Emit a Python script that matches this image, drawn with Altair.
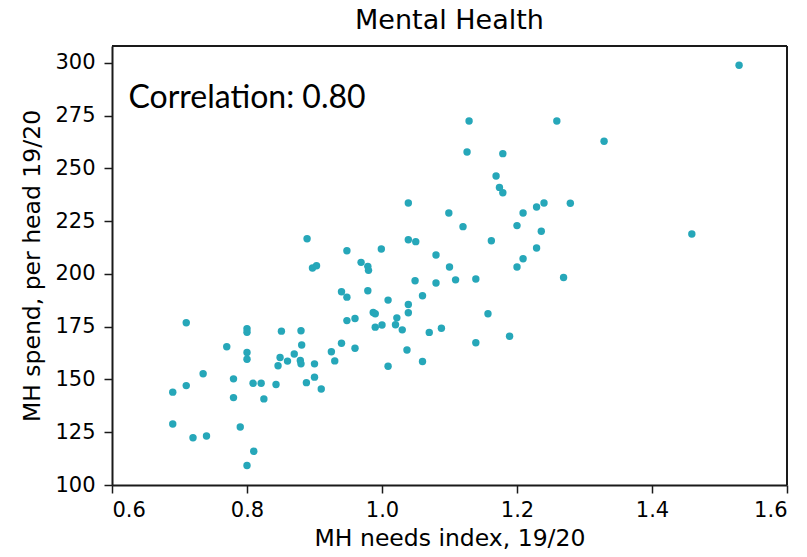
import altair as alt
import pandas as pd

needs = [0.889, 0.948, 0.897, 0.903, 0.940, 0.948, 0.948, 0.940, 0.710, 0.800,
         0.800, 0.770, 0.800, 0.800, 0.851, 0.880, 0.881, 0.870, 0.849, 0.860,
         0.879, 0.880, 0.846, 0.900, 0.925, 0.930, 0.900, 0.888, 0.910, 0.735,
         0.780, 0.809, 0.821, 0.843, 0.710, 0.690, 0.780, 0.825, 0.690, 0.790,
         0.720, 0.740, 0.810, 0.800, 1.126, 1.179, 1.169, 1.174, 1.179, 1.039,
         1.099, 1.120, 1.229, 1.240, 1.209, 1.200, 1.236, 1.162, 1.229, 1.209,
         1.200, 0.999, 1.039, 1.050, 0.969, 0.979, 0.980, 1.080, 1.100, 1.109,
         1.139, 1.049, 1.080, 1.060, 0.979, 1.009, 1.039, 1.039, 0.987, 0.990,
         0.960, 1.022, 0.990, 1.000, 1.020, 1.030, 1.070, 1.088, 1.157, 1.139,
         1.189, 1.037, 1.060, 1.009, 0.960, 1.529, 1.129, 1.259, 1.329, 1.279,
         1.459, 1.269]
spend = [216.7, 211.0, 202.8, 203.9, 191.6, 189.0, 177.9, 167.2, 176.9, 174.0,
         172.4, 165.5, 162.8, 159.6, 172.9, 173.1, 166.3, 162.1, 160.4, 158.7,
         159.0, 157.4, 156.5, 157.4, 163.1, 158.8, 151.1, 148.5, 145.5, 152.7,
         150.3, 148.2, 148.2, 147.6, 147.1, 144.0, 141.4, 140.8, 128.9, 127.5,
         122.4, 123.2, 116.0, 109.2, 257.8, 257.0, 246.4, 241.0, 238.5, 233.6,
         228.9, 222.4, 231.7, 233.6, 228.9, 222.9, 220.2, 215.7, 212.3, 207.2,
         203.3, 211.8, 216.2, 215.3, 205.5, 203.6, 201.7, 209.0, 203.3, 197.2,
         197.6, 196.8, 195.7, 189.7, 192.0, 187.6, 185.5, 181.6, 181.7, 181.1,
         178.9, 179.2, 174.8, 175.8, 175.9, 173.5, 172.3, 174.3, 181.1, 167.4,
         170.5, 164.0, 158.5, 156.3, 164.8, 298.9, 272.5, 272.5, 262.9, 233.5,
         218.9, 198.3]

x_ticks = [0.6, 0.8, 1.0, 1.2, 1.4, 1.6]
y_ticks = [100, 125, 150, 175, 200, 225, 250, 275, 300]

annot_text = ["Correlation: 0.80"]
annot_x = [0.6244]
annot_y = [278.5]

df = pd.DataFrame({"needs": needs, "spend": spend})
ann = pd.DataFrame({"x": annot_x, "y": annot_y, "t": annot_text})

AXIS_FONT = "DejaVu Sans"
LINE = "#1a1a1a"

xs = alt.Scale(domain=[0.6, 1.6], nice=False, zero=False)
ys = alt.Scale(domain=[100, 308], nice=False, zero=False)

points = alt.Chart(df).mark_circle(size=55, opacity=1, color="#26a7b9").encode(
    x=alt.X("needs:Q", scale=xs,
            axis=alt.Axis(title="MH needs index, 19/20", values=x_ticks, format=".1f",
                          grid=False, tickSize=8, tickWidth=1.5, tickColor=LINE,
                          domainColor=LINE, domainWidth=2,
                          labelFont=AXIS_FONT, labelFontSize=21, labelColor="black",
                          labelPadding=6, titleFont=AXIS_FONT, titleFontSize=23.5,
                          titleFontWeight="normal", titleColor="black", titlePadding=6)),
    y=alt.Y("spend:Q", scale=ys,
            axis=alt.Axis(title="MH spend, per head 19/20", values=y_ticks,
                          grid=False, tickSize=8, tickWidth=1.5, tickColor=LINE,
                          domainColor=LINE, domainWidth=2,
                          labelFont=AXIS_FONT, labelFontSize=21, labelColor="black",
                          labelPadding=9, titleFont=AXIS_FONT, titleFontSize=23.5,
                          titleFontWeight="normal", titleColor="black", titlePadding=10)),
)

text = alt.Chart(ann).mark_text(align="left", baseline="alphabetic", font="Lato",
                                fontSize=32, color="black").encode(
    x=alt.X("x:Q", scale=xs), y=alt.Y("y:Q", scale=ys), text="t:N")

# frame edges (top and right)
top_edge = alt.Chart(ann).mark_rule(color=LINE, strokeWidth=2).encode(
    x=alt.value(0), x2=alt.value(675), y=alt.value(0))
right_edge = alt.Chart(ann).mark_rule(color=LINE, strokeWidth=2).encode(
    x=alt.value(675), y=alt.value(0), y2=alt.value(439))

chart = (points + text + top_edge + right_edge).properties(
    width=675, height=439,
    title=alt.TitleParams("Mental Health", font=AXIS_FONT, fontSize=27,
                          fontWeight="normal", color="black", offset=10),
    autosize=alt.AutoSizeParams(type="none"),
    padding={"left": 112, "top": 46, "right": 20, "bottom": 72},
).configure_view(stroke=LINE, strokeWidth=2, strokeOpacity=1).configure(background="white")

chart.save("out.html", embed_options={"renderer": "svg", "actions": False})
